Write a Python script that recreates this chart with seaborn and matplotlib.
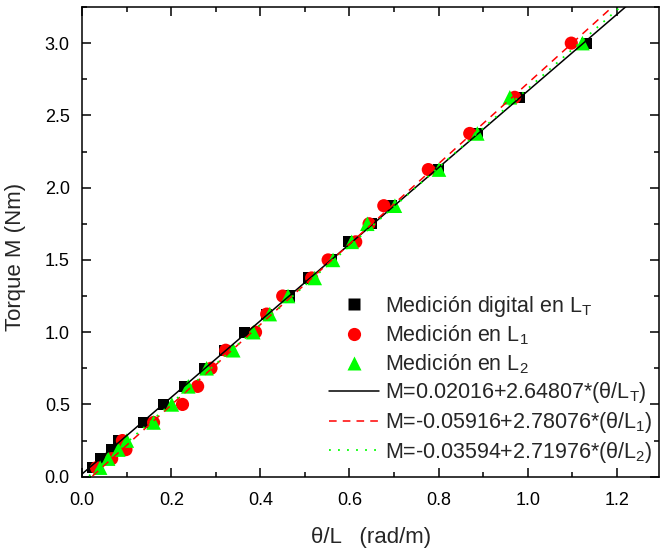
import numpy as np
import pandas as pd
import matplotlib
matplotlib.use('Agg')
import matplotlib.pyplot as plt
import seaborn as sns
from matplotlib.ticker import MultipleLocator
from matplotlib.lines import Line2D

# ---------------- data ----------------
torque = [0.0625, 0.125, 0.1875, 0.25, 0.375, 0.5, 0.625, 0.75, 0.875, 1.0,
          1.125, 1.25, 1.375, 1.5, 1.625, 1.75, 1.875, 2.125, 2.375, 2.625, 3.0]
x_LT = [0.023, 0.041, 0.066, 0.081, 0.137, 0.182, 0.230, 0.275, 0.320, 0.364,
        0.414, 0.465, 0.507, 0.559, 0.597, 0.650, 0.694, 0.799, 0.887, 0.981, 1.132]
x_L1 = [0.032, 0.066, 0.098, 0.090, 0.160, 0.225, 0.259, 0.289, 0.322, 0.389,
        0.414, 0.450, 0.515, 0.552, 0.614, 0.644, 0.677, 0.777, 0.870, 0.971, 1.098]
x_L2 = [0.040, 0.058, 0.081, 0.100, 0.160, 0.201, 0.238, 0.279, 0.339, 0.384,
        0.421, 0.462, 0.522, 0.563, 0.605, 0.640, 0.702, 0.801, 0.887, 0.960, 1.123]

fit_LT = (0.02016, 2.64807)
fit_L1 = (-0.05916, 2.78076)
fit_L2 = (-0.03594, 2.71976)
fit_x = [0.0, 1.3]

lbl_LT = "Medición digital en L$_\\mathregular{T}$"
lbl_L1 = "Medición en L$_\\mathregular{1}$"
lbl_L2 = "Medición en L$_\\mathregular{2}$"
lbl_fLT = "M=0.02016+2.64807*(θ/L$_\\mathregular{T}$)"
lbl_fL1 = "M=-0.05916+2.78076*(θ/L$_\\mathregular{1}$)"
lbl_fL2 = "M=-0.03594+2.71976*(θ/L$_\\mathregular{2}$)"

# ---------------- style ----------------
sns.set_theme(style='ticks')
plt.rcParams['font.family'] = ['Liberation Sans', 'DejaVu Sans']
plt.rcParams['mathtext.fontset'] = 'custom'
plt.rcParams['mathtext.rm'] = 'Liberation Sans'

fig = plt.figure(figsize=(6.6, 5.5), dpi=100)
ax = fig.add_axes([82.3 / 660, 73.3 / 550, 576.7 / 660, 469.7 / 550])

df_T = pd.DataFrame({'x': x_LT, 'M': torque})
df_1 = pd.DataFrame({'x': x_L1, 'M': torque})
df_2 = pd.DataFrame({'x': x_L2, 'M': torque})

sns.scatterplot(data=df_T, x='x', y='M', marker='s', s=64, color='black',
                edgecolor='none', ax=ax, zorder=3)
sns.scatterplot(data=df_1, x='x', y='M', marker='o', s=90, color='#ff0000',
                edgecolor='none', ax=ax, zorder=3)
sns.scatterplot(data=df_2, x='x', y='M', marker='^', s=110, color='#00ff00',
                edgecolor='none', ax=ax, zorder=3)

def fit_df(coef):
    a, b = coef
    xs = np.array(fit_x)
    return pd.DataFrame({'x': xs, 'M': a + b * xs})

sns.lineplot(data=fit_df(fit_LT), x='x', y='M', color='black', lw=1.1,
             ax=ax, zorder=4)
sns.lineplot(data=fit_df(fit_L1), x='x', y='M', color='#ff0000', lw=1.1,
             ax=ax, zorder=4).lines[-1].set_linestyle((0, (5, 4)))
sns.lineplot(data=fit_df(fit_L2), x='x', y='M', color='#00ff00', lw=1.3,
             ax=ax, zorder=4).lines[-1].set_linestyle((0, (1, 4)))

ax.set_xlim(0, 1.295)
ax.set_ylim(0, 3.25)

ax.xaxis.set_major_locator(MultipleLocator(0.2))
ax.xaxis.set_minor_locator(MultipleLocator(0.1))
ax.yaxis.set_major_locator(MultipleLocator(0.5))
ax.yaxis.set_minor_locator(MultipleLocator(0.25))
ax.tick_params(which='both', direction='in', top=True, right=True,
               width=1.1, colors='black', labelsize=13)
ax.tick_params(axis='x', which='both', pad=11)
ax.tick_params(axis='y', which='both', pad=9)
ax.tick_params(which='major', length=6.5)
ax.tick_params(which='minor', length=3.5)
for sp in ax.spines.values():
    sp.set_visible(True)
    sp.set_linewidth(1.1)
    sp.set_color('black')

ax.set_xlabel("θ/L   (rad/m)", fontsize=16)
ax.set_ylabel("Torque M (Nm)", fontsize=16)
ax.xaxis.set_label_coords(0.5, -0.108)
ax.yaxis.set_label_coords(-0.097, 0.468)

handles = [
    Line2D([], [], ls='none', marker='s', ms=8, color='black', mec='none'),
    Line2D([], [], ls='none', marker='o', ms=9.5, color='#ff0000', mec='none'),
    Line2D([], [], ls='none', marker='^', ms=10.5, color='#00ff00', mec='none'),
    Line2D([], [], color='black', lw=1.1),
    Line2D([], [], color='#ff0000', lw=1.1, ls=(0, (5, 4))),
    Line2D([], [], color='#00ff00', lw=1.3, ls=(0, (1, 4))),
]
labels = [lbl_LT, lbl_L1, lbl_L2, lbl_fLT, lbl_fL1, lbl_fL2]
ax.legend(handles, labels, loc='upper left', bbox_to_anchor=(0.427, 0.389),
          frameon=False, fontsize=15.5, handlelength=2.33, handletextpad=0.28,
          labelspacing=0.22, borderpad=0, borderaxespad=0)

fig.savefig('out.png', dpi=100)
